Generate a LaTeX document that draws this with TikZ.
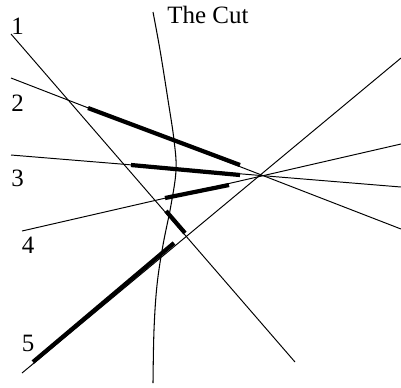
\documentclass[tikz,border=0pt]{standalone}
\usepackage{fontspec}
\setmainfont{Liberation Serif}
\usepackage{tikz}
\usetikzlibrary{calc,positioning}
\tikzset{
  ray/.style={line width=0.55pt,black},
  hot/.style={line width=2.4pt,black},
  cutline/.style={line width=0.6pt,black},
  lbl/.style={font=\fontsize{14.2}{17}\selectfont,inner sep=0pt}
}

\begin{document}
\begin{tikzpicture}[x=0.02cm,y=-0.02cm]
\useasboundingbox (0,0) rectangle (401,387);
% rays through the focus
\coordinate (a1) at (11,34);  \coordinate (b1) at (295,362);
\coordinate (a2) at (11,78);  \coordinate (b2) at (401,229);
\coordinate (a3) at (11,155); \coordinate (b3) at (401,187);
\coordinate (a4) at (22,231); \coordinate (b4) at (401,144);
\coordinate (a5) at (22,373); \coordinate (b5) at (401,58);
\foreach \i in {1,...,5} {\draw[ray] (a\i) -- (b\i);}
% the cut
\draw[cutline] plot[smooth,tension=0.6] coordinates {(153,12) (160,50) (168,100) (174,140) (176,170) (171,205) (163,245) (157,285) (154,330) (153,383)};
% thick pieces
\draw[hot] (88,108) -- (240,165);
\draw[hot] (131,165) -- (240,175);
\draw[hot] (165,198) -- (229,185);
\draw[hot] (166,211) -- (185,233);
\draw[hot] (33,362) -- (174,243);
% labels
\node[lbl] (n1) at (17.5,26) {1};
\node[lbl] (n2) at (17.5,103) {2};
\node[lbl] (n3) at (17.5,178.5) {3};
\node[lbl] (n4) at (28,245) {4};
\node[lbl] (n5) at (28,343.5) {5};
\node[lbl,anchor=base west] (cut) at (167,23) {The Cut};
\end{tikzpicture}
\end{document}
